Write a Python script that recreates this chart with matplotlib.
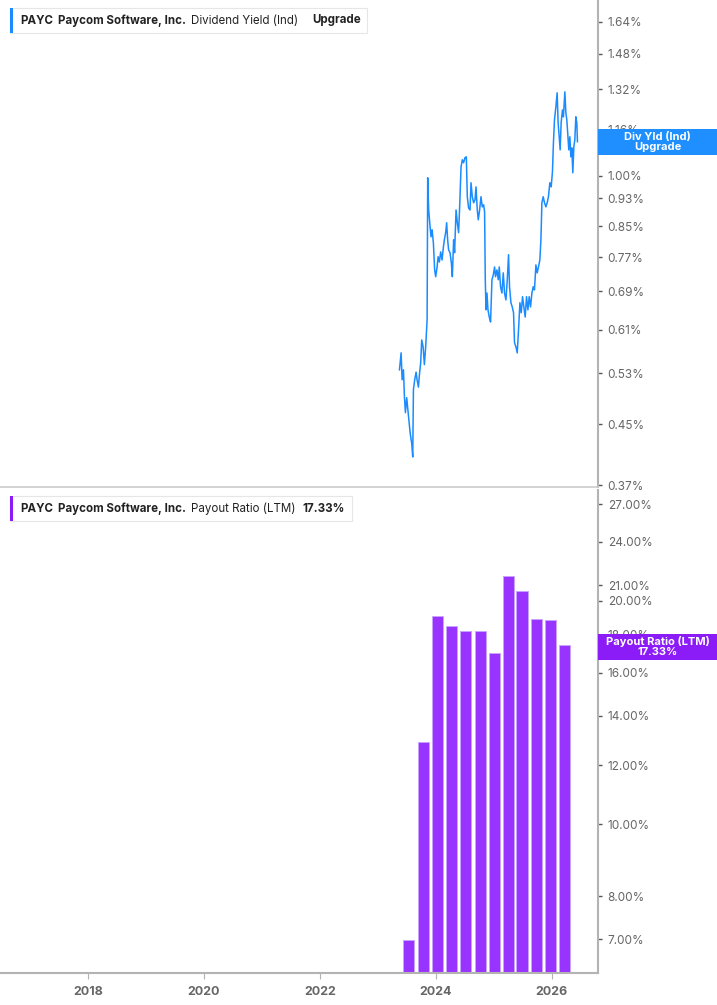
import numpy as np
import matplotlib.pyplot as plt
from matplotlib.patches import Rectangle
from matplotlib.ticker import FixedLocator, FixedFormatter, NullLocator

plt.rcParams['font.family'] = ['Inter', 'DejaVu Sans']

# dividend yield (%), dates as decimal years
yield_dates = [
    2023.370, 2023.399, 2023.416, 2023.439, 2023.456, 2023.473, 2023.495, 2023.519,
    2023.554, 2023.571, 2023.581, 2023.599, 2023.611, 2023.633, 2023.657, 2023.674,
    2023.697, 2023.714, 2023.736, 2023.754, 2023.778, 2023.800, 2023.822, 2023.840,
    2023.847, 2023.857, 2023.874, 2023.898, 2023.915, 2023.933, 2023.955, 2023.977,
    2023.995, 2024.019, 2024.036, 2024.058, 2024.081, 2024.105, 2024.122, 2024.144,
    2024.167, 2024.184, 2024.201, 2024.218, 2024.242, 2024.265, 2024.282, 2024.304,
    2024.321, 2024.346, 2024.368, 2024.390, 2024.408, 2024.432, 2024.454, 2024.476,
    2024.500, 2024.523, 2024.540, 2024.562, 2024.587, 2024.604, 2024.626, 2024.649,
    2024.673, 2024.690, 2024.712, 2024.729, 2024.752, 2024.776, 2024.798, 2024.821,
    2024.838, 2024.850, 2024.862, 2024.879, 2024.896, 2024.919, 2024.941, 2024.965,
    2024.988, 2025.010, 2025.027, 2025.051, 2025.074, 2025.091, 2025.113, 2025.137,
    2025.160, 2025.182, 2025.206, 2025.229, 2025.251, 2025.268, 2025.292, 2025.315,
    2025.337, 2025.354, 2025.378, 2025.401, 2025.423, 2025.447, 2025.470, 2025.492,
    2025.516, 2025.538, 2025.561, 2025.585, 2025.607, 2025.630, 2025.654, 2025.676,
    2025.698, 2025.723, 2025.745, 2025.767, 2025.791, 2025.809, 2025.826, 2025.848,
    2025.871, 2025.895, 2025.917, 2025.939, 2025.963, 2025.986, 2026.008, 2026.025,
    2026.043, 2026.067, 2026.089, 2026.106, 2026.124, 2026.141, 2026.158, 2026.180,
    2026.197, 2026.222, 2026.239, 2026.256, 2026.273, 2026.290, 2026.308, 2026.325,
    2026.342, 2026.359, 2026.377, 2026.394, 2026.411, 2026.428, 2026.439,
]
yield_values = [
    0.536, 0.566, 0.519, 0.536, 0.491, 0.467, 0.490, 0.468,
    0.438, 0.428, 0.424, 0.405, 0.503, 0.519, 0.532, 0.519,
    0.507, 0.527, 0.548, 0.590, 0.577, 0.545, 0.577, 0.615,
    0.629, 0.994, 0.896, 0.849, 0.822, 0.841, 0.806, 0.739,
    0.723, 0.746, 0.771, 0.758, 0.783, 0.763, 0.788, 0.814,
    0.833, 0.860, 0.814, 0.788, 0.781, 0.756, 0.723, 0.814,
    0.781, 0.896, 0.860, 0.833, 0.905, 1.029, 1.053, 1.043,
    1.060, 1.063, 0.935, 0.902, 0.896, 0.978, 0.935, 0.917,
    0.926, 0.965, 0.896, 0.868, 0.896, 0.935, 0.905, 0.911,
    0.891, 0.716, 0.650, 0.686, 0.650, 0.635, 0.625, 0.716,
    0.727, 0.746, 0.723, 0.739, 0.716, 0.746, 0.700, 0.686,
    0.732, 0.686, 0.671, 0.716, 0.776, 0.700, 0.665, 0.656,
    0.644, 0.585, 0.577, 0.566, 0.609, 0.665, 0.644, 0.678,
    0.656, 0.635, 0.678, 0.650, 0.678, 0.656, 0.686, 0.700,
    0.693, 0.751, 0.732, 0.746, 0.763, 0.814, 0.917, 0.935,
    0.917, 0.905, 0.917, 0.935, 0.978, 0.965, 1.013, 1.112,
    1.197, 1.248, 1.306, 1.186, 1.134, 1.087, 1.186, 1.236,
    1.209, 1.310, 1.225, 1.197, 1.141, 1.087, 1.134, 1.063,
    1.094, 1.010, 1.098, 1.123, 1.209, 1.186, 1.116,
]

# payout ratio (LTM, %) per quarter
payout_dates = [2023.526, 2023.785, 2024.026, 2024.267, 2024.517, 2024.767,
                2025.009, 2025.250, 2025.483, 2025.733, 2025.974, 2026.216]
payout_values = [6.87, 12.79, 19.00, 18.38, 18.10, 18.10,
                 16.90, 21.50, 20.50, 18.77, 18.72, 17.33]

yield_ticks = [0.37, 0.45, 0.53, 0.61, 0.69, 0.77, 0.85, 0.93, 1.00, 1.16, 1.32, 1.48, 1.64]
payout_ticks = [7, 8, 10, 12, 14, 16, 18, 20, 21, 24, 27]
year_ticks = [2018, 2020, 2022, 2024, 2026]

blue = '#1a8cff'
purple = '#9933ff'
grey_spine = '#b3b3b3'
tick_grey = '#666666'

W, H = 717, 1005
fig = plt.figure(figsize=(W / 100, H / 100), dpi=100)
ax1 = fig.add_axes([0, 1 - 487 / H, 598 / W, 487 / H])
ax2 = fig.add_axes([0, 1 - 973 / H, 598 / W, (973 - 490) / H])

xlim = (2016.483, 2016.483 + 598 / 58.0)

for ax in (ax1, ax2):
    ax.set_xlim(*xlim)
    ax.set_yscale('log')
    ax.yaxis.tick_right()
    ax.spines['left'].set_visible(False)
    ax.spines['top'].set_visible(False)
    ax.spines['right'].set_color(grey_spine)
    ax.spines['right'].set_linewidth(1.5)
    ax.spines['bottom'].set_color('#cccccc')
    ax.spines['bottom'].set_linewidth(1.2)
    ax.yaxis.set_minor_locator(NullLocator())
    ax.tick_params(axis='y', which='major', length=3, width=1, color='#555555',
                   pad=4, labelsize=8.5, labelcolor=tick_grey)

# top panel - dividend yield
ax1.plot(yield_dates, yield_values, color=blue, lw=1.1)
ax1.set_ylim(0.3677, 1.760)
ax1.yaxis.set_major_locator(FixedLocator(yield_ticks))
ax1.yaxis.set_major_formatter(FixedFormatter([f'{t:.2f}%' for t in yield_ticks]))
ax1.set_xticks([])

# bottom panel - payout ratio
ax2.bar(payout_dates, payout_values, width=0.19, color=purple,
        edgecolor='#c9a3ff', linewidth=0.6, bottom=0.1)
ax2.set_ylim(6.30, 28.2)
ax2.yaxis.set_major_locator(FixedLocator(payout_ticks))
ax2.yaxis.set_major_formatter(FixedFormatter([f'{t:.2f}%' for t in payout_ticks]))
ax2.spines['bottom'].set_color(grey_spine)
ax2.spines['bottom'].set_linewidth(1.5)
ax2.set_xticks(year_ticks)
ax2.set_xticklabels([str(y) for y in year_ticks], fontweight='bold')
ax2.tick_params(axis='x', length=4, color=grey_spine, pad=5, labelsize=9,
                labelcolor=tick_grey)


def value_box(ax, value, color, lines):
    fig.canvas.draw()
    _, ypix = ax.transData.transform((xlim[1], value))
    x0 = 598 / W
    h = 26 / H
    yc = ypix / H
    fig.add_artist(Rectangle((x0, yc - h / 2), 1 - x0, h, transform=fig.transFigure,
                             facecolor=color, edgecolor='none', zorder=5))
    fig.text((x0 + 1) / 2, yc, lines, color='white', fontsize=8, fontweight='bold',
             ha='center', va='center', linespacing=1.0, zorder=6)


value_box(ax1, yield_values[-1], '#1f8fff', 'Div Yld (Ind)\nUpgrade')
value_box(ax2, payout_values[-1], '#8c1cf7', 'Payout Ratio (LTM)\n17.33%')


def legend(top, right, color, parts):
    bh = 25 / H
    y0 = 1 - (top + 25) / H
    fig.add_artist(Rectangle((10 / W, y0), (right - 10) / W, bh, transform=fig.transFigure,
                             facecolor='white', edgecolor='#e6e6e6', lw=0.8, zorder=5))
    fig.add_artist(Rectangle((10 / W, y0), 3 / W, bh, transform=fig.transFigure,
                             facecolor=color, edgecolor='none', zorder=6))
    for x, txt, wt in parts:
        fig.text(x / W, y0 + bh / 2, txt, fontsize=8.3, fontweight=wt, color='#222222',
                 ha='left', va='center', zorder=7)


legend(8, 367, blue, [(20, 'PAYC', 'bold'), (57.7, 'Paycom Software, Inc.', 'bold'),
                      (191, 'Dividend Yield (Ind)', 'normal'), (312, 'Upgrade', 'bold')])
legend(496, 352, '#8c1cf7', [(20, 'PAYC', 'bold'), (57.7, 'Paycom Software, Inc.', 'bold'),
                             (191, 'Payout Ratio (LTM)', 'normal'), (302, '17.33%', 'bold')])

fig.savefig('out.png', dpi=100)
